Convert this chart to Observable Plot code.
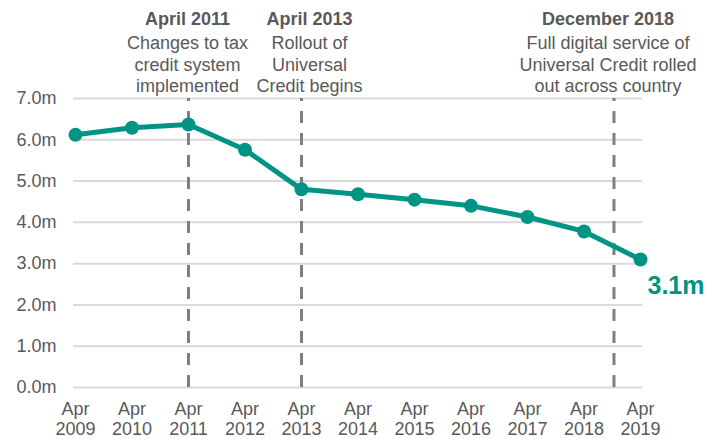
<!DOCTYPE html>
<html>
<head>
<meta charset="utf-8">
<script src="https://cdn.jsdelivr.net/npm/d3@7"></script>
<script src="https://cdn.jsdelivr.net/npm/@observablehq/plot@0.6"></script>
<style>
  html, body { margin: 0; padding: 0; background: #fff; }
  #chart svg { display: block; }
</style>
</head>
<body>
<div id="chart"></div>
<script>
// Data
const years = [2009, 2010, 2011, 2012, 2013, 2014, 2015, 2016, 2017, 2018, 2019];
const claimants = [6.12, 6.29, 6.37, 5.76, 4.80, 4.68, 4.55, 4.40, 4.13, 3.78, 3.10];
const tickMonth = "Apr";
const yTicks = [0, 1, 2, 3, 4, 5, 6, 7];
const eventDates = [2011, 2013, 2018.53];
const eventTitles = ["April 2011", "April 2013", "December 2018"];
const eventNotes = [
  "Changes to tax\ncredit system\nimplemented",
  "Rollout of\nUniversal\nCredit begins",
  "Full digital service of\nUniversal Credit rolled\nout across country"
];
const endLabel = "3.1m";

const teal = "#009485";
const grey = "#595959";
const font = "Liberation Sans, Arial, sans-serif";

const series = years.map((year, i) => ({year, value: claimants[i]}));
const last = series[series.length - 1];
const events = eventDates.map((date, i) => ({date, title: eventTitles[i], note: eventNotes[i]}));
const textShift = [-1, 8, -6];

const eventTextMarks = events.flatMap((e, i) => [
  Plot.text([e], {x: "date", y: () => 7, text: "title", fontWeight: "bold", fontSize: 18,
    fill: grey, lineAnchor: "top", dy: -86, dx: textShift[i], textAnchor: "middle"}),
  Plot.text([e], {x: "date", y: () => 7, text: "note", fontSize: 18, lineHeight: 1.17,
    fill: grey, lineAnchor: "top", dy: -64, dx: textShift[i], textAnchor: "middle"})
]);

const chart = Plot.plot({
  width: 708,
  height: 439,
  marginLeft: 73,
  marginRight: 66,
  marginTop: 98,
  marginBottom: 52,
  style: {fontFamily: font, background: "#fff", overflow: "visible"},
  x: {domain: [2008.965, 2019.035], axis: null},
  y: {domain: [0, 7], axis: null},
  marks: [
    Plot.ruleY(yTicks, {stroke: "#d9d9d9", strokeWidth: 2}),
    Plot.axisY(yTicks, {tickSize: 0, tickPadding: 17, fontSize: 18, fill: grey, label: null,
      tickFormat: d => d.toFixed(1) + "m"}),
    Plot.axisX(years, {tickSize: 0, tickPadding: 13, fontSize: 18, fill: grey, lineHeight: 1.12,
      label: null, tickFormat: d => tickMonth + "\n" + d}),
    Plot.ruleX(eventDates, {y1: 0, y2: 7, stroke: "#7f7f7f", strokeWidth: 3, strokeDasharray: "12,10"}),
    ...eventTextMarks,
    Plot.line(series, {x: "year", y: "value", stroke: teal, strokeWidth: 5, curve: "linear"}),
    Plot.dot(series, {x: "year", y: "value", r: 7, fill: teal}),
    Plot.text([last], {x: "year", y: "value", text: () => endLabel, fill: teal, fontWeight: "bold",
      fontSize: 25, textAnchor: "start", dx: 7, dy: 26})
  ]
});
document.getElementById("chart").appendChild(chart);
</script>
</body>
</html>
